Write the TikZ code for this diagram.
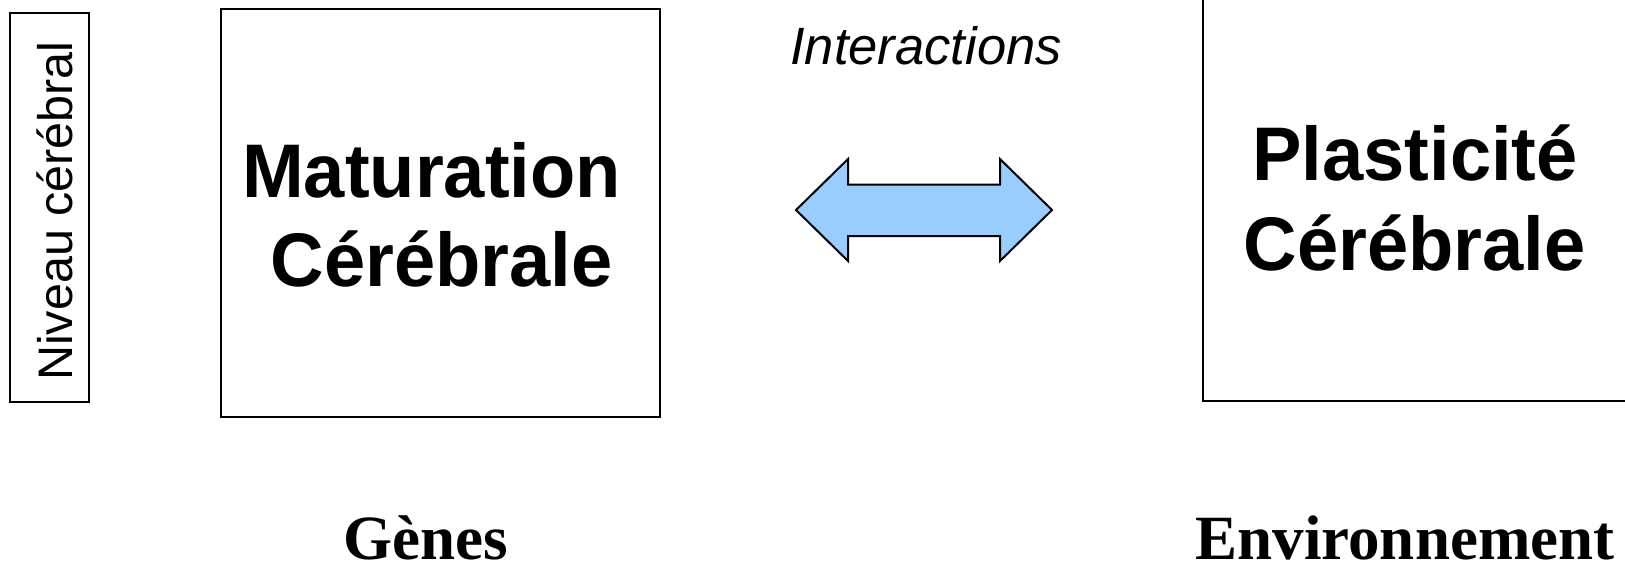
\documentclass[tikz,border=0pt]{standalone}
\usepackage{fontspec}
\setmainfont{Liberation Sans}
\newfontfamily\timesfont{Liberation Serif}
\definecolor{arrowblue}{HTML}{99CCFF}
\begin{document}
\begin{tikzpicture}[x=1pt,y=-1pt,
  frame/.style={draw=black,line width=2pt,inner sep=0pt},
  bigtext/.style={font=\fontsize{76}{80}\selectfont\bfseries,anchor=base,inner sep=0pt,xscale=0.975},
  bottomtext/.style={font=\timesfont\fontsize{63}{66}\selectfont\bfseries,anchor=base,inner sep=0pt}]
\useasboundingbox (0,0) rectangle (1625,566);
\clip (0,0) rectangle (1625,566);
% left label box
\node[frame,minimum width=79pt,minimum height=389pt] (lvl) at (49.5,207) {};
\node[rotate=90,anchor=base,inner sep=0pt,font=\fontsize{48.5}{52}\selectfont] (lvltext) at (72,211) {Niveau cérébral};
% box 1
\node[frame,minimum width=439pt,minimum height=408pt] (box1) at (440.5,212.5) {};
\node[bigtext] (mat1) at (431.5,197) {Maturation};
\node[bigtext] (mat2) at (441.5,286) {Cérébrale};
% box 2 (extends past the right and top edges)
\node[frame,minimum width=440pt,minimum height=421pt] (box2) at (1423,190.5) {};
\node[bigtext] (pla1) at (1415,180) {Plasticité};
\node[bigtext] (pla2) at (1414.5,270) {Cérébrale};
% interactions
\node[anchor=base,inner sep=0pt,font=\fontsize{52.5}{56}\selectfont\itshape] (inter) at (926,64) {Interactions};
\draw[fill=arrowblue,line width=2pt,line join=miter]
  (796,210) -- (848,159) -- (848,184.5) -- (1000,184.5) -- (1000,159) -- (1052,210)
  -- (1000,261) -- (1000,236) -- (848,236) -- (848,261) -- cycle;
% bottom labels
\node[bottomtext] (genes) at (426,559) {Gènes};
\node[bottomtext] (env) at (1405,559) {Environnement};
\end{tikzpicture}
\end{document}
